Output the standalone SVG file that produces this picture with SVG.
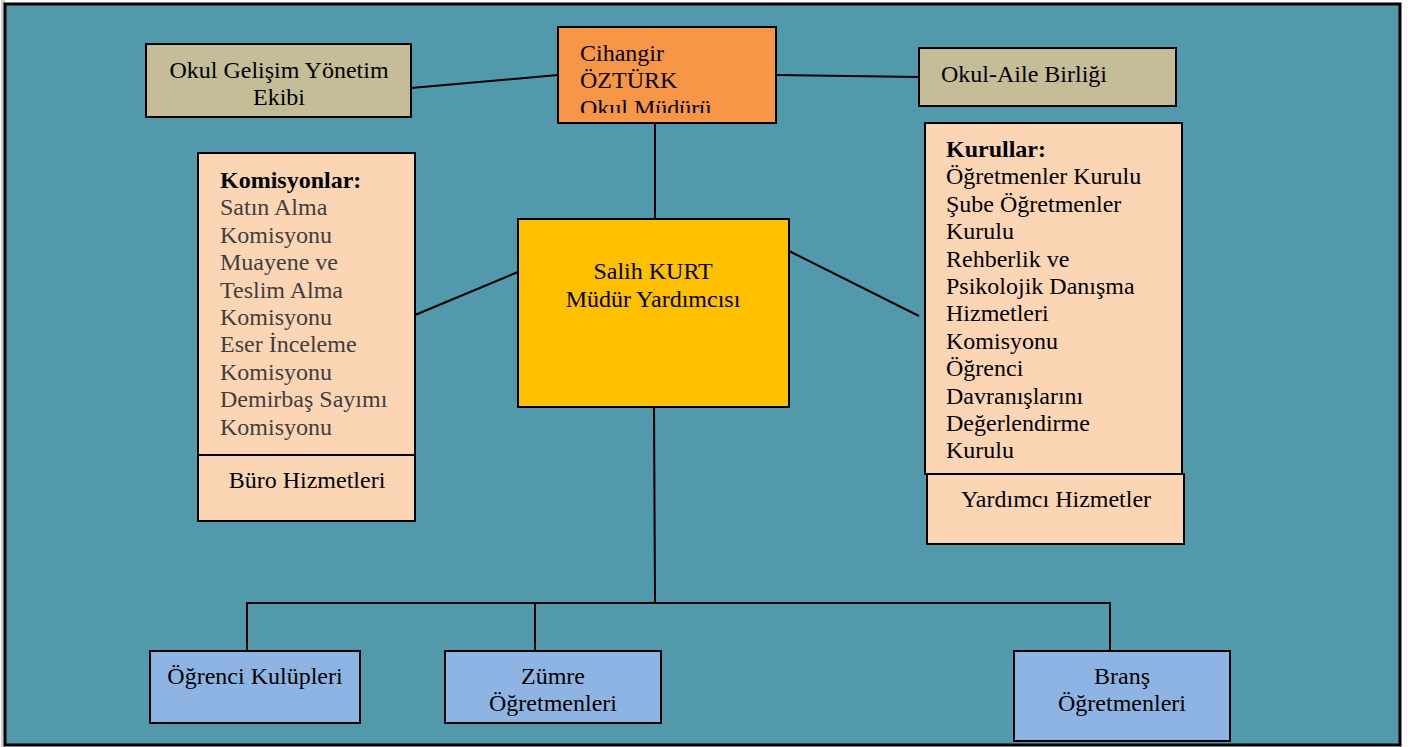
<svg xmlns="http://www.w3.org/2000/svg" width="1427" height="747" viewBox="0 0 1427 747">
<defs>
<style>
.box{stroke:#000;stroke-width:2}
.tan{fill:#C4BD97}
.org{fill:#F79646}
.pch{fill:#FCD5B4}
.gld{fill:#FFC000}
.blu{fill:#8EB4E3}
text{font-family:'Liberation Serif','Times New Roman',serif;font-size:24px;fill:#000}
.c{text-anchor:middle}
.g{fill:#3F3F3F}
.b{font-weight:bold}
.ln{stroke:#000;stroke-width:2;fill:none}
</style>
<clipPath id="clipC"><rect x="558" y="27" width="218" height="86"/></clipPath>
</defs>
<rect x="0" y="0" width="1427" height="747" fill="#fff"/>
<rect x="1" y="0" width="4" height="747" fill="#d0d0d0"/>
<rect x="5" y="4" width="1395" height="741" fill="#5399AC" stroke="#000" stroke-width="3"/>

<g id="connectors">
<line class="ln" x1="411" y1="88" x2="558" y2="75"/>
<line class="ln" x1="776" y1="75" x2="919" y2="77"/>
<line class="ln" x1="655" y1="123" x2="655" y2="219"/>
<line class="ln" x1="518" y1="272" x2="415" y2="315"/>
<line class="ln" x1="789" y1="251" x2="919" y2="316"/>
<line class="ln" x1="654" y1="407" x2="655" y2="603"/>
<polyline class="ln" points="247,651 247,603 1110,603 1110,651"/>
<line class="ln" x1="535" y1="603" x2="535" y2="651"/>
</g>

<g id="okul-gelisim">
<rect class="box tan" x="146" y="44" width="265" height="73"/>
<text class="c" x="279" y="78">Okul Gelişim Yönetim</text>
<text class="c" x="279" y="105">Ekibi</text>
</g>

<g id="mudur">
<rect class="box org" x="558" y="27" width="218" height="96"/>
<g clip-path="url(#clipC)">
<text x="580" y="60.5">Cihangir</text>
<text x="580" y="88">ÖZTÜRK</text>
<text x="580" y="115.5">Okul Müdürü</text>
</g>
</g>

<g id="okul-aile">
<rect class="box tan" x="919" y="48" width="257" height="58"/>
<text x="941" y="82">Okul-Aile Birliği</text>
</g>

<g id="komisyonlar">
<rect class="box pch" x="198" y="153" width="217" height="302"/>
<text x="220" y="188" class="b">Komisyonlar:</text>
<text x="220" y="215.4" class="g">Satın Alma</text>
<text x="220" y="242.8" class="g">Komisyonu</text>
<text x="220" y="270.2" class="g">Muayene ve</text>
<text x="220" y="297.6" class="g">Teslim Alma</text>
<text x="220" y="325" class="g">Komisyonu</text>
<text x="220" y="352.4" class="g">Eser İnceleme</text>
<text x="220" y="379.8" class="g">Komisyonu</text>
<text x="220" y="407.2" class="g">Demirbaş Sayımı</text>
<text x="220" y="434.6" class="g">Komisyonu</text>
</g>

<g id="buro">
<rect class="box pch" x="198" y="455" width="217" height="66"/>
<text class="c" x="307" y="488">Büro Hizmetleri</text>
</g>

<g id="kurullar">
<rect class="box pch" x="925" y="123" width="257" height="351"/>
<text x="946" y="157" class="b">Kurullar:</text>
<text x="946" y="184.4">Öğretmenler Kurulu</text>
<text x="946" y="211.8">Şube Öğretmenler</text>
<text x="946" y="239.2">Kurulu</text>
<text x="946" y="266.6">Rehberlik ve</text>
<text x="946" y="294">Psikolojik Danışma</text>
<text x="946" y="321.4">Hizmetleri</text>
<text x="946" y="348.8">Komisyonu</text>
<text x="946" y="376.2">Öğrenci</text>
<text x="946" y="403.6">Davranışlarını</text>
<text x="946" y="431">Değerlendirme</text>
<text x="946" y="458.4">Kurulu</text>
</g>

<g id="yardimci">
<rect class="box pch" x="927" y="474" width="257" height="70"/>
<text class="c" x="1056" y="507">Yardımcı Hizmetler</text>
</g>

<g id="mudur-yardimcisi">
<rect class="box gld" x="518" y="219" width="271" height="188"/>
<text class="c" x="653" y="279">Salih KURT</text>
<text class="c" x="653" y="307">Müdür Yardımcısı</text>
</g>

<g id="ogrenci-kulupleri">
<rect class="box blu" x="150" y="651" width="210" height="72"/>
<text class="c" x="255" y="684">Öğrenci Kulüpleri</text>
</g>

<g id="zumre">
<rect class="box blu" x="445" y="651" width="216" height="72"/>
<text class="c" x="553" y="684">Zümre</text>
<text class="c" x="553" y="711">Öğretmenleri</text>
</g>

<g id="brans">
<rect class="box blu" x="1014" y="651" width="216" height="90"/>
<text class="c" x="1122" y="684">Branş</text>
<text class="c" x="1122" y="711">Öğretmenleri</text>
</g>
</svg>
